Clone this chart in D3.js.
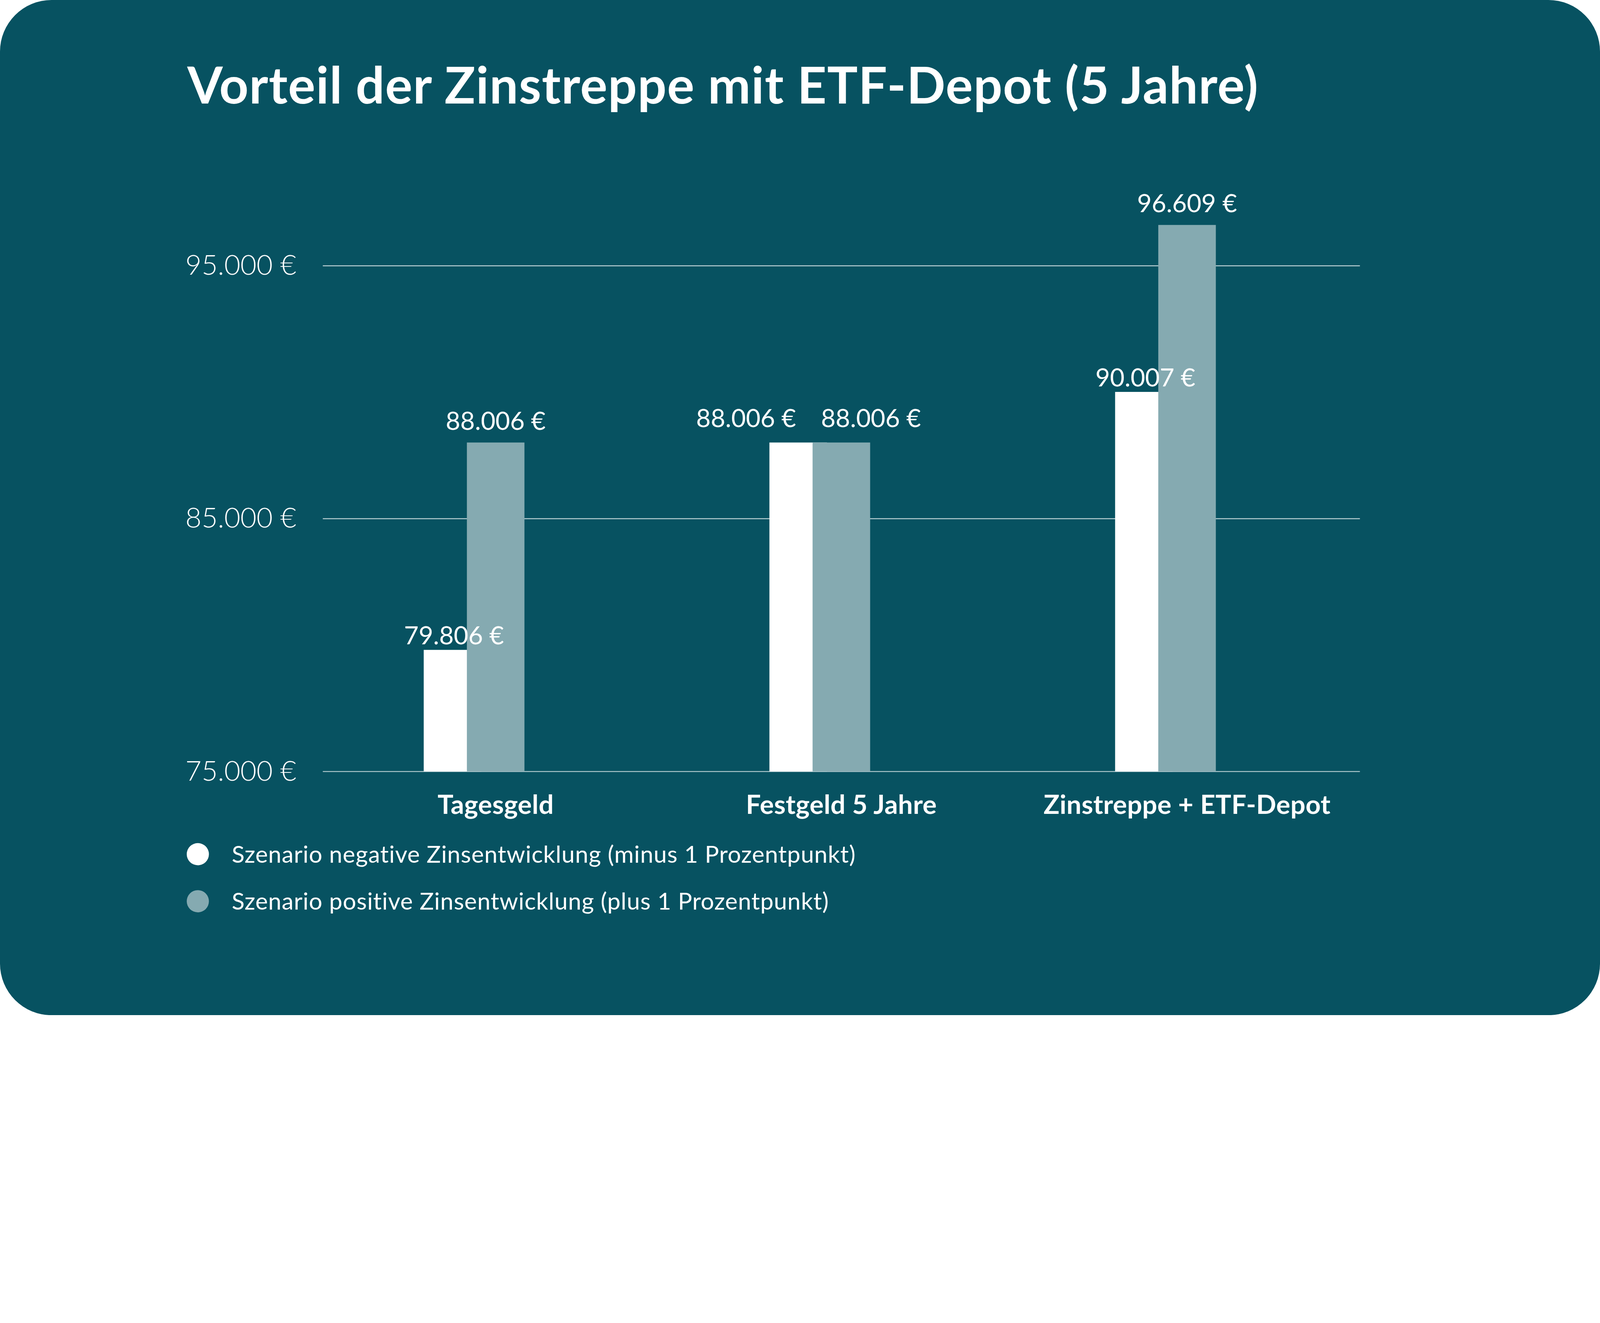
<!DOCTYPE html>
<html>
<head>
<meta charset="utf-8">
<script src="https://cdn.jsdelivr.net/npm/d3@7"></script>
<style>
  html, body { margin: 0; padding: 0; background: #ffffff; overflow: hidden; }
  svg { display: block; width: 100vw; height: auto; }
  text { font-family: Lato, "Open Sans", sans-serif; fill: #ffffff; }
</style>
</head>
<body>
<svg id="chart" viewBox="0 0 5338 3386"></svg>
<script>
'use strict';

// chart data
var categories = ['Tagesgeld', 'Festgeld 5 Jahre', 'Zinstreppe + ETF-Depot'];
var negativeValues = [79806, 88006, 90007];
var positiveValues = [88006, 88006, 96609];
var seriesNames = [
  'Szenario negative Zinsentwicklung (minus 1 Prozentpunkt)',
  'Szenario positive Zinsentwicklung (plus 1 Prozentpunkt)'
];
var tickValues = [75000, 85000, 95000];
var tickLabels = ['75.000 €', '85.000 €', '95.000 €'];
var title = 'Vorteil der Zinstreppe mit ETF-Depot (5 Jahre)';

var bg = '#075261';
var colors = ['#ffffff', '#85aab1'];

var de = d3.formatLocale({ decimal: ',', thousands: '.', grouping: [3], currency: ['', ' €'] });
var fmt = de.format('$,.0f');

var svg = d3.select('#chart');
var width = 5338;
var height = 3386;

svg.append('rect')
  .attr('width', width)
  .attr('height', height)
  .attr('rx', 172)
  .attr('fill', bg);

svg.append('text')
  .attr('x', 625)
  .attr('y', 345)
  .attr('font-size', 170)
  .attr('font-weight', 700)
  .attr('letter-spacing', 2)
  .text(title);

var plot = { left: 1077, right: 4537, top: 886, bottom: 2573 };

var x = d3.scaleBand()
  .domain(categories)
  .range([plot.left, plot.right]);

var y = d3.scaleLinear()
  .domain([75000, 95000])
  .range([plot.bottom, plot.top]);

var barW = x.bandwidth() * 0.1665;
var offsets = [-1.25 * barW, -0.5 * barW];

// y axis with gridlines
var yAxis = svg.append('g')
  .attr('transform', 'translate(' + plot.left + ',0)')
  .call(d3.axisLeft(y)
    .tickValues(tickValues)
    .tickFormat(function (d, i) { return tickLabels[i]; })
    .tickSize(-(plot.right - plot.left))
    .tickPadding(88));
yAxis.select('.domain').remove();
yAxis.selectAll('line')
  .attr('stroke', '#b9cfd3')
  .attr('stroke-width', 3);
yAxis.selectAll('text')
  .attr('fill', '#ffffff')
  .attr('font-size', 93)
  .attr('font-weight', 300)
  .attr('font-family', 'Lato, sans-serif');

// x axis labels
var xAxis = svg.append('g')
  .attr('transform', 'translate(0,' + plot.bottom + ')')
  .call(d3.axisBottom(x).tickSize(0).tickPadding(0));
xAxis.select('.domain').remove();
xAxis.selectAll('text')
  .attr('fill', '#ffffff')
  .attr('dy', null)
  .attr('y', 142)
  .attr('font-size', 88)
  .attr('font-weight', 700)
  .attr('letter-spacing', 0.5)
  .attr('font-family', 'Lato, sans-serif');

var series = [negativeValues, positiveValues];

var groups = svg.append('g').attr('class', 'bars')
  .selectAll('g')
  .data(series)
  .enter()
  .append('g')
  .attr('fill', function (d, i) { return colors[i]; });

groups.selectAll('rect')
  .data(function (vals, si) {
    return vals.map(function (v, ci) { return { s: si, c: categories[ci], v: v }; });
  })
  .enter()
  .append('rect')
  .attr('x', function (d) { return x(d.c) + x.bandwidth() / 2 + offsets[d.s]; })
  .attr('y', function (d) { return y(d.v); })
  .attr('width', barW)
  .attr('height', function (d) { return y(75000) - y(d.v); });

// value labels, pushed apart when the two of a group collide
var labelLayer = svg.append('g').attr('class', 'labels');
categories.forEach(function (c, ci) {
  var center = x(c) + x.bandwidth() / 2;
  var tealX = center + offsets[1];
  var lw = labelLayer.append('text')
    .attr('x', center + offsets[0] + barW / 2 + 5)
    .attr('y', y(negativeValues[ci]) - 18)
    .attr('text-anchor', 'middle')
    .attr('font-size', 84)
    .text(fmt(negativeValues[ci]));
  var lt = labelLayer.append('text')
    .attr('x', center)
    .attr('y', y(positiveValues[ci]) - 43)
    .attr('text-anchor', 'middle')
    .attr('font-size', 84)
    .text(fmt(positiveValues[ci]));
  var a = lw.node().getBBox();
  var b = lt.node().getBBox();
  var overlap = a.x < b.x + b.width && b.x < a.x + a.width &&
    a.y < b.y + b.height && b.y < a.y + a.height;
  if (overlap) {
    var base = Math.min(+lw.attr('y'), +lt.attr('y')) - 8;
    lw.attr('y', base).attr('text-anchor', 'end').attr('x', tealX - 55);
    lt.attr('y', base).attr('text-anchor', 'start').attr('x', tealX + 28);
  }
});

// legend
var legend = svg.append('g')
  .attr('transform', 'translate(660,2849)')
  .selectAll('g')
  .data(seriesNames)
  .enter()
  .append('g')
  .attr('transform', function (d, i) { return 'translate(0,' + i * 157 + ')'; });

legend.append('circle')
  .attr('r', 37)
  .attr('fill', function (d, i) { return colors[i]; });

legend.append('text')
  .attr('x', 113)
  .attr('dy', '0.36em')
  .attr('font-size', 79)
  .attr('letter-spacing', 1.2)
  .text(function (d) { return d; });
</script>
</body>
</html>
